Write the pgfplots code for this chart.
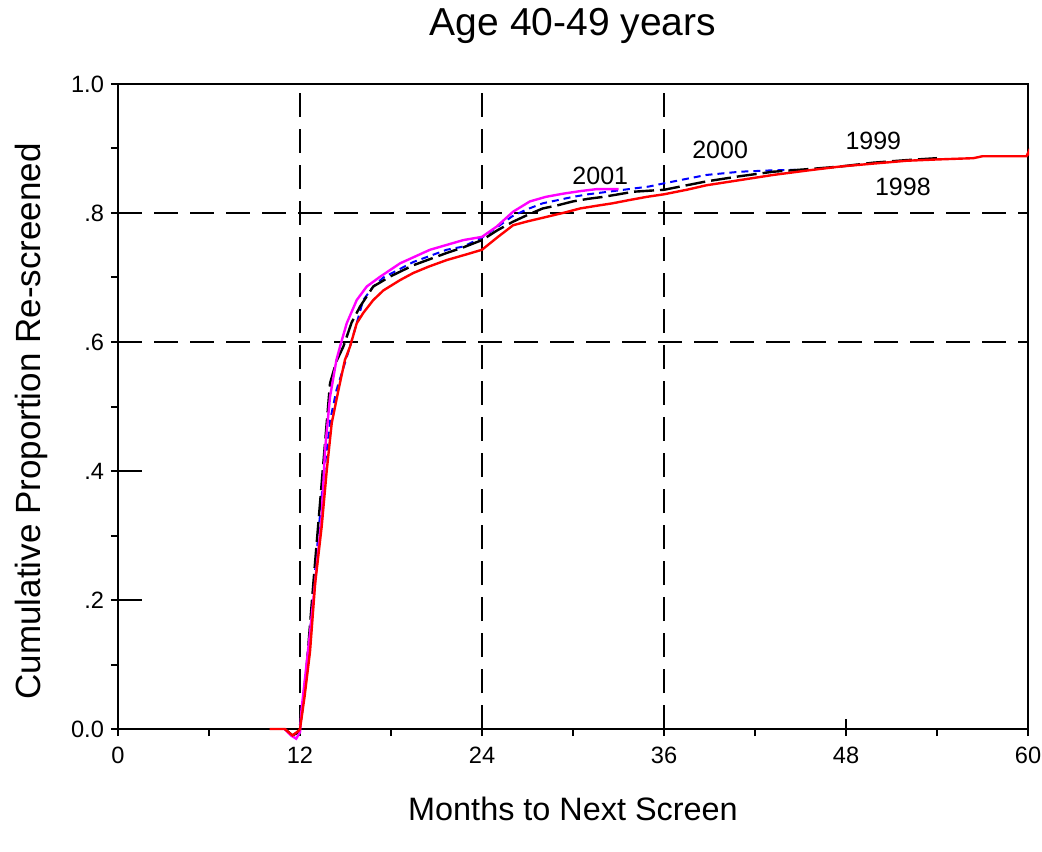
\documentclass[border=0pt]{standalone}
\usepackage{pgfplots}
\pgfplotsset{compat=1.18}
\usepackage{fontspec}
\setmainfont{Liberation Sans}
\definecolor{cred}{RGB}{255,0,0}
\definecolor{cblue}{RGB}{0,0,255}
\definecolor{cmag}{RGB}{255,0,255}
\begin{document}
\begin{tikzpicture}
\path[use as bounding box] (-59pt,-61pt) rectangle (462pt,364.5pt);
\begin{axis}[
  at={(0,0)}, anchor=south west,
  scale only axis, width=455pt, height=322.5pt,
  xmin=0, xmax=60, ymin=0, ymax=1,
  clip=false,
  axis line style={line width=1.1pt},
  xtick={0,12,24,36,48,60},
  minor xtick={6,18,30,42,54},
  ytick={0,0.2,0.4,0.6,0.8,1},
  yticklabels={0.0,.2,.4,.6,.8,1.0},
  minor ytick={0.1,0.3,0.5,0.7,0.9},
  tick align=outside,
  major tick length=3.5pt, minor tick length=3.5pt,
  tick style={line width=1pt, black},
  xtick pos=bottom, ytick pos=left,
  /pgf/number format/assume math mode=true,
  tick label style={font=\fontsize{11.8}{13}\selectfont},
  xticklabel style={yshift=-2pt},
  title={Age 40-49 years},
  title style={font=\fontsize{19.5}{22}\selectfont, at={(0.5,1)}, anchor=base, yshift=18pt},
  xlabel={Months to Next Screen},
  xlabel style={font=\fontsize{16.2}{19}\selectfont, at={(axis description cs:0.5,0)}, anchor=base, yshift=-45.5pt},
  ylabel={Cumulative Proportion Re-screened},
  ylabel style={font=\fontsize{17.5}{20}\selectfont, at={(axis description cs:-0.0857,0.477)}, anchor=base},
]
% reference dashed lines
\addplot[black, line width=1pt, dash pattern=on 12pt off 6pt] coordinates {(12,0) (12,1)};
\addplot[black, line width=1pt, dash pattern=on 12pt off 6pt] coordinates {(24,0) (24,1)};
\addplot[black, line width=1pt, dash pattern=on 12pt off 6pt] coordinates {(36,0) (36,1)};
\addplot[black, line width=1pt, dash pattern=on 12pt off 6pt] coordinates {(0,0.6) (60,0.6)};
\addplot[black, line width=1pt, dash pattern=on 12pt off 6pt] coordinates {(0,0.8) (60,0.8)};
% inner parts of major ticks
\draw[line width=1pt] (axis cs:12,0) -- ++(0pt,5pt);
\draw[line width=1pt] (axis cs:24,0) -- ++(0pt,5pt);
\draw[line width=1pt] (axis cs:36,0) -- ++(0pt,5pt);
\draw[line width=1pt] (axis cs:48,0) -- ++(0pt,5pt);
\draw[line width=1pt] (axis cs:0,0.2) -- ++(12pt,0pt);
\draw[line width=1pt] (axis cs:0,0.4) -- ++(12pt,0pt);
\draw[line width=1pt] (axis cs:0,0.6) -- ++(12pt,0pt);
\draw[line width=1pt] (axis cs:0,0.8) -- ++(12pt,0pt);
% 2000 blue
\addplot[cblue, line width=1pt, dash pattern=on 3.5pt off 2.5pt] coordinates {
(11,0) (11.5,-0.01) (11.9,-0.005) (12.1,0.02) (12.5,0.1) (12.9,0.22) (13.5,0.38) (14.0,0.48)
(14.4,0.525) (15.3,0.593) (16.17,0.665) (16.83,0.686) (17.5,0.70) (19.47,0.724) (21.67,0.743)
(22.77,0.748) (24,0.762) (25,0.778) (26,0.795) (27,0.806) (28,0.815) (29,0.82) (30,0.825)
(31,0.829) (32,0.832) (33,0.835) (34,0.838) (35,0.841) (36,0.846) (37.5,0.853) (38.8,0.859)
(41,0.864) (43,0.866) (45,0.867)};
% 1999 black
\addplot[black, line width=1.2pt, dash pattern=on 10pt off 3pt] coordinates {
(11,0) (11.5,-0.01) (11.9,-0.005) (12.1,0.02) (12.44,0.097) (12.88,0.226) (13.52,0.407)
(13.98,0.536) (14.4,0.57) (14.86,0.593) (15.4,0.63) (15.96,0.655) (16.83,0.686) (17.9,0.701)
(19.47,0.719) (21.67,0.738) (22.8,0.747) (24,0.758) (25,0.773) (26,0.786) (27,0.797) (28,0.807)
(29,0.812) (30,0.818) (31,0.822) (32,0.825) (33,0.829) (34,0.833) (36,0.836) (37.5,0.843)
(38.8,0.849) (41,0.857) (43.2,0.864) (45.5,0.868) (47.6,0.872) (49.8,0.878) (52,0.882) (54,0.885)};
% 2001 magenta
\addplot[cmag, line width=1.2pt] coordinates {
(11,0) (11.4,-0.01) (11.75,-0.015) (12,-0.005) (12.1,0.03) (12.66,0.149) (13.1,0.252)
(13.43,0.329) (13.65,0.433) (13.98,0.515) (14.4,0.572) (14.64,0.593) (15.08,0.629) (15.74,0.665)
(16.4,0.686) (17.27,0.701) (18.6,0.722) (20.57,0.743) (22.77,0.758) (24,0.763) (24.97,0.779)
(26.05,0.802) (27.16,0.818) (28.2,0.825) (29.36,0.830) (30.5,0.834) (31.55,0.837) (33.0,0.837)};
% 1998 red
\addplot[cred, line width=1.2pt] coordinates {
(10,0) (11,0) (11.5,-0.01) (11.9,-0.003) (12,0) (12.3,0.05) (12.66,0.12) (13.0,0.226)
(13.43,0.314) (13.76,0.40) (14.09,0.474) (14.53,0.525) (14.96,0.572) (15.3,0.593) (15.74,0.629)
(16.17,0.645) (16.83,0.665) (17.5,0.68) (18.6,0.696) (19.47,0.707) (20.5,0.717) (21.67,0.727)
(23,0.736) (24,0.743) (25,0.762) (26.05,0.781) (27,0.787) (28.26,0.794) (29.5,0.801)
(30.46,0.807) (31.5,0.811) (32.6,0.815) (33.7,0.82) (34.86,0.825) (36,0.829) (37.5,0.836)
(38.8,0.843) (41,0.851) (43.2,0.859) (45.5,0.866) (47.6,0.872) (50,0.877) (52,0.881) (54,0.883)
(56.4,0.885) (57,0.888) (59.9,0.888) (60,0.893) (60,0.889)};
% labels
\node[font=\fontsize{12.5}{14}\selectfont] at (axis cs:31.8,0.857) {2001};
\node[font=\fontsize{12.5}{14}\selectfont] at (axis cs:39.7,0.898) {2000};
\node[font=\fontsize{12.5}{14}\selectfont] at (axis cs:49.8,0.912) {1999};
\node[font=\fontsize{12.5}{14}\selectfont] at (axis cs:51.75,0.840) {1998};
\end{axis}
\end{tikzpicture}
\end{document}
